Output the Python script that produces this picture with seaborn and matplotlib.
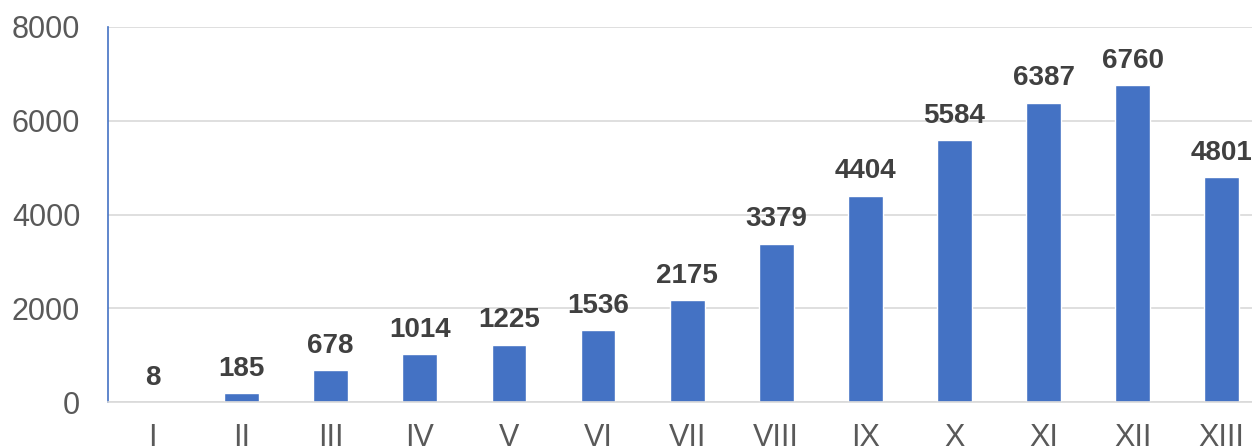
import matplotlib
matplotlib.use("Agg")
import matplotlib.pyplot as plt
import seaborn as sns
import pandas as pd

categories = ["I", "II", "III", "IV", "V", "VI", "VII", "VIII", "IX", "X", "XI", "XII", "XIII"]
values = [8, 185, 678, 1014, 1225, 1536, 2175, 3379, 4404, 5584, 6387, 6760, 4801]
yticks = [0, 2000, 4000, 6000, 8000]

sns.set_theme(style="white")
plt.rcParams['font.family'] = ['Liberation Sans', 'DejaVu Sans']

df = pd.DataFrame({"cat": categories, "val": values})

W, H = 1252, 446
fig = plt.figure(figsize=(W / 100, H / 100), dpi=100)
ax = fig.add_axes([108 / W, (H - 402) / H, (W - 108) / W, (402 - 27) / H])

sns.barplot(data=df, x="cat", y="val", color="#4472C4", saturation=1, width=0.39, ax=ax)

ax.set_ylim(0, 8000)
ax.set_xlim(-0.5, 12.34)
ax.set_yticks(yticks)
ax.set_yticklabels([str(t) for t in yticks])
ax.yaxis.grid(True, color="#D9D9D9", linewidth=1.2)
ax.set_axisbelow(True)
ax.set_xlabel("")
ax.set_ylabel("")

for s in ["top", "right"]:
    ax.spines[s].set_visible(False)
ax.spines["left"].set_color("#4472C4")
ax.spines["left"].set_linewidth(1.2)
ax.spines["bottom"].set_color("#D9D9D9")
ax.spines["bottom"].set_linewidth(1.2)

ax.tick_params(axis="y", length=0, pad=20, labelsize=22, labelcolor="#595959")
ax.tick_params(axis="x", length=0, pad=15, labelsize=22, labelcolor="#595959")

ax.bar_label(ax.containers[0], labels=[str(v) for v in values], padding=8,
             fontsize=20, fontweight="bold", color="#404040")

fig.savefig("out.png", dpi=100)
